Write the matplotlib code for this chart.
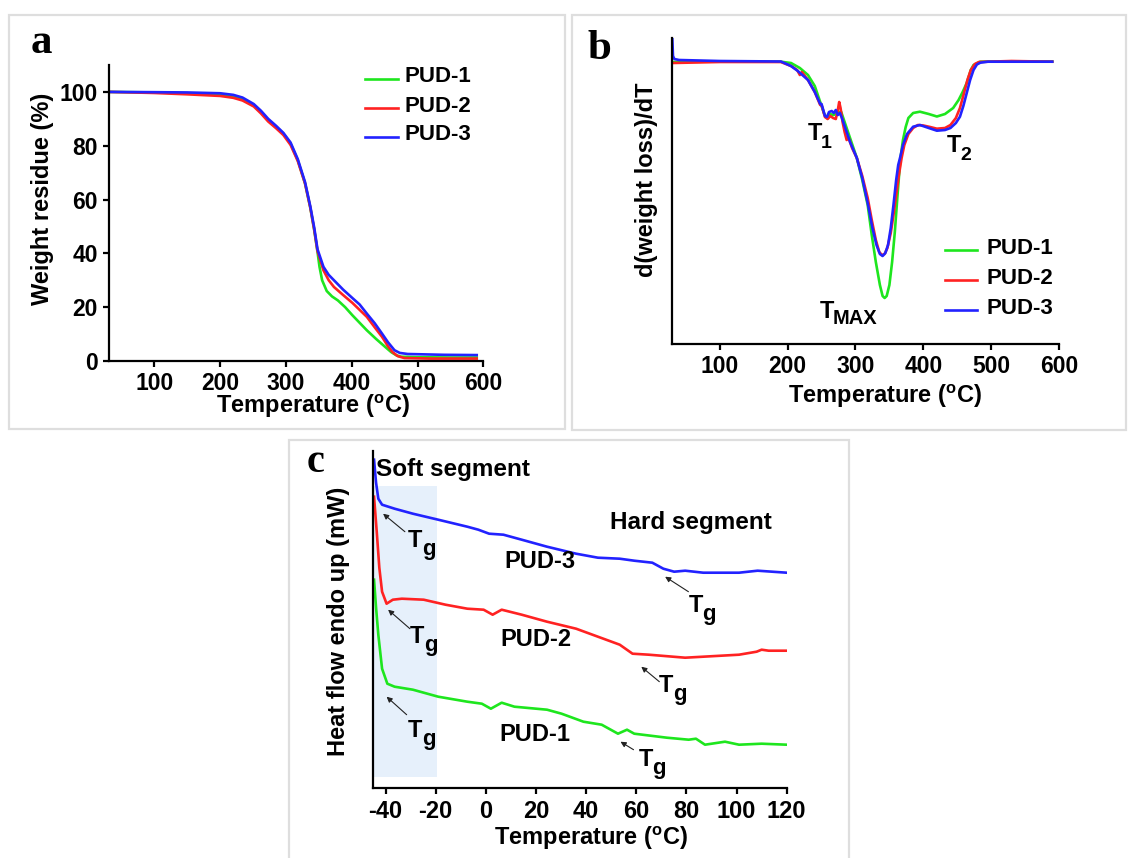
import matplotlib
matplotlib.use('Agg')
import matplotlib.pyplot as plt
from matplotlib.patches import Rectangle

W, H = 1128, 858
plt.rcParams['font.family'] = ['Liberation Sans', 'DejaVu Sans']
plt.rcParams['font.weight'] = 'bold'
plt.rcParams['axes.unicode_minus'] = False
plt.rcParams['mathtext.fontset'] = 'custom'
plt.rcParams['mathtext.rm'] = 'Liberation Sans:bold'
plt.rcParams['mathtext.it'] = 'Liberation Sans:bold'
plt.rcParams['mathtext.bf'] = 'Liberation Sans:bold'

GREEN, RED, BLUE = '#1ee61e', '#ff2222', '#2222ff'
names = ['PUD-1', 'PUD-2', 'PUD-3']
colors = [GREEN, RED, BLUE]

# ---------------- Panel a: TGA weight residue ----------------
a_T1 = [31, 100, 150, 200, 220, 234, 251, 262, 273, 285, 296, 307, 318, 329, 337, 343, 348, 351, 355, 362,
        370, 379, 390, 401, 412, 423, 437, 451, 460, 468, 475, 500, 550, 590]
a_W1 = [100, 99.8, 99.5, 99.0, 98.4, 97.4, 95.0, 92.5, 89.5, 87.0, 84.5, 80.8, 74.6, 66.0, 57.0, 48.6, 40.5,
        35.0, 30.0, 26.0, 24.0, 22.5, 20.0, 17.0, 14.2, 11.4, 8.2, 5.2, 3.3, 2.1, 1.6, 1.4, 1.3, 1.3]
a_T2 = [31, 100, 150, 200, 220, 234, 251, 262, 273, 285, 296, 307, 318, 329, 337, 343, 348, 357, 365, 373,
        387, 401, 412, 423, 435, 446, 455, 462, 470, 480, 520, 590]
a_W2 = [100, 99.6, 99.1, 98.5, 97.8, 96.8, 94.6, 92.0, 89.0, 86.5, 84.0, 80.3, 74.3, 66.0, 57.0, 48.8, 40.8,
        33.7, 30.0, 27.5, 24.5, 21.6, 19.0, 16.4, 12.5, 9.0, 5.5, 3.3, 1.8, 1.1, 0.9, 0.9]
a_T3 = [31, 100, 150, 200, 220, 234, 251, 262, 273, 285, 296, 307, 318, 329, 337, 343, 348, 357, 365, 373,
        387, 401, 412, 423, 435, 446, 455, 465, 473, 485, 540, 590]
a_W3 = [100, 99.9, 99.8, 99.5, 98.9, 97.9, 95.5, 93.0, 90.0, 87.4, 84.8, 81.2, 75.0, 66.5, 57.5, 49.5, 41.5,
        35.0, 32.0, 30.0, 26.5, 23.4, 21.0, 17.6, 14.0, 10.2, 7.0, 4.0, 3.0, 2.6, 2.3, 2.2]
a_xticks = [100, 200, 300, 400, 500, 600]
a_yticks = [0, 20, 40, 60, 80, 100]

# ---------------- Panel b: DTG curves (arbitrary units) ----------------
b_T1 = [30, 100, 190, 205, 218, 230, 240, 248, 254, 258, 262, 268, 274, 279, 284, 292, 302, 310, 318, 324,
        330, 336, 340, 343, 346, 350, 354, 358, 362, 366, 370, 374, 378, 385, 395, 408, 420, 432, 444, 452,
        458, 464, 470, 474, 484, 500, 590]
b_V1 = [-0.01, -0.005, -0.007, -0.02, -0.07, -0.14, -0.25, -0.41, -0.53, -0.57, -0.53, -0.54, -0.51, -0.51,
        -0.61, -0.77, -0.97, -1.19, -1.44, -1.74, -2.01, -2.24, -2.35, -2.37, -2.35, -2.24, -2.01, -1.71,
        -1.34, -0.99, -0.79, -0.66, -0.57, -0.52, -0.507, -0.53, -0.555, -0.53, -0.47, -0.39, -0.31, -0.22,
        -0.09, -0.04, -0.007, -0.005, -0.005]
b_T2 = [30, 100, 190, 205, 214, 218, 221, 230, 240, 248, 250, 255, 259, 263, 267, 271, 274, 276, 278, 281,
        284, 287, 290, 295, 302, 310, 318, 324, 330, 335, 339, 343, 347, 352, 356, 360, 364, 368, 372, 378,
        385, 392, 400, 410, 420, 432, 440, 448, 454, 460, 465, 470, 476, 482, 495, 530, 590]
b_V2 = [-0.02, -0.01, -0.01, -0.05, -0.09, -0.14, -0.11, -0.19, -0.31, -0.44, -0.44, -0.56, -0.58, -0.55,
        -0.57, -0.58, -0.49, -0.41, -0.47, -0.61, -0.71, -0.79, -0.77, -0.87, -0.97, -1.15, -1.37, -1.59,
        -1.79, -1.91, -1.94, -1.93, -1.87, -1.72, -1.54, -1.34, -1.14, -0.97, -0.84, -0.73, -0.67, -0.64,
        -0.645, -0.66, -0.677, -0.67, -0.64, -0.57, -0.47, -0.32, -0.19, -0.09, -0.03, -0.01, -0.007,
        0.0, -0.007]
b_T3 = [30, 31, 33, 40, 100, 190, 205, 215, 230, 240, 248, 250, 255, 258, 261, 265, 268, 271, 274, 277, 280,
        285, 292, 302, 310, 318, 325, 331, 336, 340, 344, 348, 352, 356, 360, 363, 366, 370, 376, 385, 395,
        408, 420, 432, 440, 448, 454, 459, 464, 469, 474, 479, 484, 495, 590]
b_V3 = [0.23, 0.05, 0.02, 0.01, 0.0, -0.005, -0.05, -0.1, -0.19, -0.31, -0.43, -0.43, -0.55, -0.56, -0.51,
        -0.50, -0.52, -0.49, -0.54, -0.52, -0.57, -0.67, -0.81, -0.97, -1.17, -1.42, -1.67, -1.84, -1.93,
        -1.95, -1.92, -1.84, -1.67, -1.44, -1.19, -1.04, -0.96, -0.84, -0.73, -0.657, -0.64, -0.67, -0.697,
        -0.69, -0.67, -0.62, -0.557, -0.45, -0.32, -0.19, -0.09, -0.035, -0.017, -0.007, -0.007]
b_xticks = [100, 200, 300, 400, 500, 600]

# ---------------- Panel c: DSC curves (arbitrary units) ----------------
c_T1 = [-44.6, -43.8, -42.9, -41.4, -39.3, -36.4, -29.1, -19.0, -7.4, -1.6, 2.0, 6.3, 11.4, 24.4, 30.2,
        38.9, 46.2, 52.7, 56.3, 59.2, 72.2, 80.9, 83.8, 87.4, 95.4, 101.0, 110.0, 120.0]
c_V1 = [20.8, 18.0, 15.3, 11.9, 10.4, 10.1, 9.8, 9.1, 8.6, 8.4, 7.9, 8.5, 8.1, 7.8, 7.4, 6.6, 6.3, 5.4,
        5.8, 5.4, 5.0, 4.8, 4.9, 4.3, 4.6, 4.3, 4.4, 4.3]
c_T2 = [-44.6, -43.5, -42.5, -41.4, -39.6, -37.1, -33.5, -24.8, -16.1, -7.4, -0.9, 2.7, 6.3, 14.3, 24.4,
        36.0, 44.7, 53.4, 58.5, 65.0, 79.5, 86.7, 101.0, 108.0, 110.0, 112.8, 120.0]
c_V2 = [29.1, 25.5, 22.0, 19.6, 18.4, 18.8, 18.9, 18.8, 18.3, 17.9, 17.8, 17.3, 17.8, 17.3, 16.6, 15.9,
        15.1, 14.3, 13.4, 13.3, 13.0, 13.1, 13.3, 13.6, 13.8, 13.7, 13.7]
c_T3 = [-44.6, -43.8, -42.9, -41.4, -36.4, -29.1, -19.0, -7.4, -3.0, 1.3, 7.0, 14.3, 24.4, 36.0, 44.7,
        53.4, 59.2, 66.4, 70.8, 75.1, 79.5, 86.7, 101.0, 108.4, 120.0]
c_V3 = [32.8, 30.5, 28.9, 28.3, 27.9, 27.4, 26.8, 26.1, 25.8, 25.4, 25.3, 24.8, 24.1, 23.4, 23.0, 22.9,
        22.7, 22.5, 21.9, 21.6, 21.7, 21.5, 21.5, 21.7, 21.5]
c_xticks = [-40, -20, 0, 20, 40, 60, 80, 100, 120]
soft_span = (-44.5, -19.5)
# Tg annotations: (text T, text V, arrow tail T, tail V, head T, head V)
tg_marks = [(-25.7, 24.3, -32.3, 25.6, -41.0, 27.4),
            (-25.0, 14.7, -30.3, 15.9, -39.0, 17.8),
            (-25.7, 5.3, -31.6, 7.3, -39.6, 9.1),
            (86.0, 17.8, 80.8, 19.6, 71.5, 21.1),
            (74.3, 9.8, 69.2, 10.6, 62.0, 12.1),
            (66.1, 2.4, 58.9, 3.8, 53.7, 4.6)]

fig = plt.figure(figsize=(W / 100, H / 100), dpi=100)


def fx(x):
    return x / W


def fy(y):
    return 1 - y / H


def axes_px(left, top, right, bottom):
    return fig.add_axes([fx(left), fy(bottom), (right - left) / W, (bottom - top) / H])


def ftext(x, y, s, **kw):
    fig.text(fx(x), fy(y), s, **kw)


def style(ax, size, pad):
    for s in ['top', 'right']:
        ax.spines[s].set_visible(False)
    for s in ['left', 'bottom']:
        ax.spines[s].set_linewidth(1.6)
    ax.tick_params(direction='out', length=4.5, width=1.6, labelsize=size, pad=pad)
    ax.patch.set_alpha(0)
    for lab in ax.get_xticklabels() + ax.get_yticklabels():
        lab.set_fontweight('bold')


def frame(l, t, r, b):
    fig.add_artist(Rectangle((fx(l), fy(b)), (r - l) / W, (b - t) / H, transform=fig.transFigure,
                             fill=False, edgecolor='#dedede', lw=1.6))


frame(9, 15, 565, 429)
frame(572, 15, 1126, 430)
frame(289, 440, 849, 870)

deg_label = 'Temperature ($^{o}$C)'
LW = 1.9
LAB = 17

# Panel a
ax = axes_px(109, 65, 483.3, 361)
for T, V, c in zip([a_T1, a_T2, a_T3], [a_W1, a_W2, a_W3], colors):
    ax.plot(T, V, color=c, lw=LW)
ax.set_xlim(31, 600)
ax.set_ylim(0, 110)
ax.set_xticks(a_xticks)
ax.set_yticks(a_yticks)
style(ax, 16.5, 3.5)
ftext(313, 406.7, deg_label, ha='center', va='center', fontsize=LAB, fontweight='bold')
ftext(43, 199, 'Weight residue (%)', ha='center', va='center', rotation=90, fontsize=LAB, fontweight='bold')
for i, (n, c) in enumerate(zip(names, colors)):
    y = 77 + 29 * i
    fig.add_artist(plt.Line2D([fx(365), fx(398)], [fy(y + 2), fy(y + 2)], color=c, lw=LW,
                              transform=fig.transFigure))
    ftext(405, y, n, ha='left', va='center', fontsize=16, fontweight='bold')
ftext(41, 53, 'a', ha='center', va='baseline', fontsize=31, fontweight='bold', family='Liberation Serif')

# Panel b
ax = axes_px(672.3, 38, 1059, 344)
for T, V, c in zip([b_T1, b_T2, b_T3], [b_V1, b_V2, b_V3], colors):
    ax.plot(T, V, color=c, lw=LW)
ax.set_xlim(30, 600)
ax.set_ylim(-2.83, 0.23)
ax.set_xticks(b_xticks)
ax.set_yticks([])
style(ax, 16.5, 3.5)
ftext(885, 396.7, deg_label, ha='center', va='center', fontsize=LAB, fontweight='bold')
ftext(646, 180, 'd(weight loss)/dT', ha='center', va='center', rotation=90, fontsize=LAB, fontweight='bold')
for i, (n, c) in enumerate(zip(names, colors)):
    y = 248 + 30 * i
    fig.add_artist(plt.Line2D([fx(945), fx(977)], [fy(y + 2), fy(y + 2)], color=c, lw=LW,
                              transform=fig.transFigure))
    ftext(986, y, n, ha='left', va='center', fontsize=16, fontweight='bold')


def sub_label(x, y, main, sub, size, subsize, dx, dy):
    """Draw main letter with a large subscript (figure pixel coords, centre of the main letter)."""
    ftext(x, y, main, ha='center', va='center', fontsize=size, fontweight='bold')
    ftext(x + dx, y + dy, sub, ha='left', va='center', fontsize=subsize, fontweight='bold')


sub_label(815, 134, 'T', '1', 17, 14, 6, 9)
sub_label(954, 146, 'T', '2', 17, 14, 6, 9)
sub_label(827, 311, 'T', 'MAX', 17, 14.5, 6, 7)
ftext(599, 59, 'b', ha='center', va='baseline', fontsize=31, fontweight='bold', family='Liberation Serif')

# Panel c
ax = axes_px(373.3, 451, 786.7, 787.7)
ax.add_patch(Rectangle((soft_span[0], 1.04), soft_span[1] - soft_span[0], 30.2 - 1.04,
                       facecolor='#e6f0fb', edgecolor='none', zorder=0))
for T, V, c in zip([c_T1, c_T2, c_T3], [c_V1, c_V2, c_V3], colors):
    ax.plot(T, V, color=c, lw=LW)
ax.set_xlim(-44.9, 120)
ax.set_ylim(0, 33.67)
ax.set_xticks(c_xticks)
ax.set_yticks([])
style(ax, 17, 4)
for tT, tV, aT, aV, hT, hV in tg_marks:
    ax.annotate('', xy=(hT, hV), xytext=(aT, aV),
                arrowprops=dict(arrowstyle='-|>', color='#222222', lw=0.8, mutation_scale=8,
                                shrinkA=0, shrinkB=0))
    ax.annotate('T', xy=(tT, tV), xytext=(-6, 4), textcoords='offset pixels', ha='center', va='center',
                fontsize=17, fontweight='bold')
    ax.annotate('g', xy=(tT, tV), xytext=(1, -5), textcoords='offset pixels', ha='left', va='center',
                fontsize=16, fontweight='bold')
ax.text(-43.9, 31.8, 'Soft segment', ha='left', va='center', fontsize=17.5, fontweight='bold')
ax.text(81.8, 26.5, 'Hard segment', ha='center', va='center', fontsize=17.5, fontweight='bold')
ax.text(21.5, 22.6, 'PUD-3', ha='center', va='center', fontsize=17, fontweight='bold')
ax.text(19.9, 14.8, 'PUD-2', ha='center', va='center', fontsize=17, fontweight='bold')
ax.text(19.5, 5.3, 'PUD-1', ha='center', va='center', fontsize=17, fontweight='bold')
ftext(591, 838, deg_label, ha='center', va='center', fontsize=LAB, fontweight='bold')
ftext(338.3, 621, 'Heat flow endo up (mW)', ha='center', va='center', rotation=90, fontsize=LAB,
      fontweight='bold')
ftext(316, 471.5, 'c', ha='center', va='baseline', fontsize=29, fontweight='bold', family='Liberation Serif')

fig.savefig('out.png', dpi=100)
